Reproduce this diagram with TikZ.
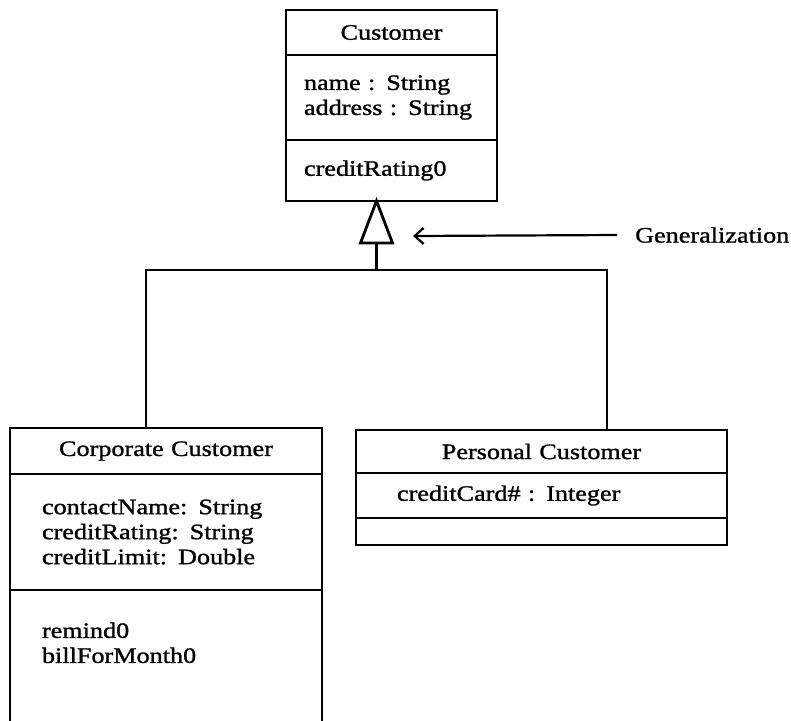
\documentclass[tikz,border=0pt]{standalone}
\usepackage{fontspec}
\setmainfont{Liberation Serif}[FakeStretch=1.19, FakeBold=1.2]
\usetikzlibrary{positioning,arrows.meta}

\tikzset{
  umlpart/.style={draw, line width=2.8pt, outer sep=0pt, inner ysep=0pt},
  umltitle/.style={umlpart, text width=#1, inner xsep=0pt, align=center},
  umlattr/.style={umlpart, align=left},
  umlline/.style={line width=2.8pt}
}

\begin{document}
\begin{tikzpicture}[x=1pt, y=-1pt, font=\fontsize{22}{25}\selectfont]
\useasboundingbox (0,0) rectangle (791,720);
\clip (0,0) rectangle (791,720);
\node [umltitle=211pt, minimum height=45pt, anchor=north west] (cust-title) at (286,10) {Customer};
\node [umlattr, inner xsep=18pt, text width=175pt, minimum height=85pt,
    below=0pt of cust-title] (cust-attr) {name : String\\address : String};
\node [umlattr, inner xsep=18pt, text width=175pt, minimum height=61pt,
    below=0pt of cust-attr] (cust-ops) {creditRating0};

\node [umltitle=312pt, minimum height=46pt, anchor=north west] (corp-title) at (10,428) {Corporate Customer};
\node [umlattr, inner xsep=32pt, text width=248pt, minimum height=116pt,
    below=0pt of corp-title] (corp-attr) {contactName: String\\creditRating: String\\creditLimit: Double};
\node [umlattr, inner xsep=32pt, text width=248pt, minimum height=138pt,
    below=0pt of corp-attr] (corp-ops) {remind0\\billForMonth0\\\strut};

\node [umltitle=371pt, minimum height=43pt, anchor=north west] (pers-title) at (356,430) {Personal Customer};
\node [umlattr, inner xsep=41pt, text width=289pt, minimum height=45pt,
    below=0pt of pers-title] (pers-attr) {creditCard\# : Integer};
\node [umlpart, inner sep=0pt, minimum width=371pt, minimum height=27pt,
    below=0pt of pers-attr] (pers-ops) {};

% generalization
\coordinate (tri-apex) at ([xshift=-15pt]cust-ops.south);
\coordinate (tri-base) at ([yshift=-42pt]tri-apex);
\coordinate (joint) at ([yshift=-27pt]tri-base);
\coordinate (corp-in) at ([xshift=136pt]corp-title.north west);
\coordinate (pers-in) at ([xshift=-120pt]pers-title.north east);
\draw [umlline, fill=white] (tri-apex) -- ++(-16,42) -- ++(32,0) -- cycle;
\draw [umlline] (tri-base) -- (joint);
\draw [umlline] (corp-in) |- (joint) -| (pers-in);

\node [anchor=west, inner sep=0pt] (gen-label) at (635,235) {Generalization};
\coordinate (gen-tip) at (413,236);
\draw [line width=2.2pt, -{Straight Barb[length=9pt,width=16pt]}]
    ([xshift=-18pt]gen-label.west) -- (gen-tip);
\end{tikzpicture}
\end{document}
